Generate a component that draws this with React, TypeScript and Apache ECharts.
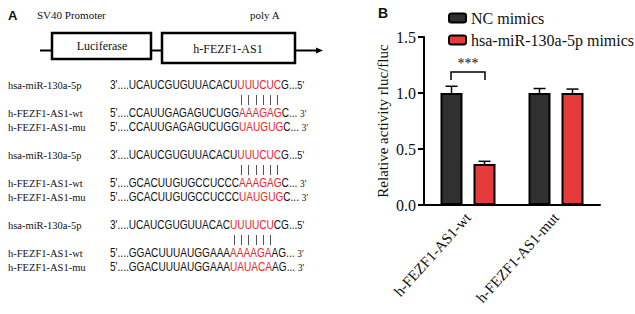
import React, { useEffect, useRef } from 'react';
import * as echarts from 'echarts';

// ---- Panel B data ----
const categories = ['h-FEZF1-AS1-wt', 'h-FEZF1-AS1-mut'];
const seriesNames = ['NC mimics', 'hsa-miR-130a-5p mimics'];
const ncValues = [1.0, 1.0];
const ncErrors = [0.06, 0.04];
const mimicValues = [0.365, 1.0];
const mimicErrors = [0.025, 0.035];
const yTickLabels = ['0.0', '0.5', '1.0', '1.5'];

// ---- Panel A data ----
const seqLabels = ['hsa-miR-130a-5p', 'h-FEZF1-AS1-wt', 'h-FEZF1-AS1-mu'];
// [prefix, red seed part, suffix, end]
const block1 = [
  ["3'....UCAUCGUGUUACACU", 'UUUCUC', 'G...', "5'"],
  ["5'....CCAUUGAGAGUCUGG", 'AAAGAG', 'C... ', "3'"],
  ["5'....CCAUUGAGAGUCUGG", 'UAUGUG', 'C... ', "3'"],
];
const block2 = [
  ["3'....UCAUCGUGUUACACU", 'UUUCUC', 'G...', "5'"],
  ["5'....GCACUUGUGCCUCCC", 'AAAGAG', 'C... ', "3'"],
  ["5'....GCACUUGUGCCUCCC", 'UAUGUG', 'C... ', "3'"],
];
const block3 = [
  ["3'....UCAUCGUGUUACAC", 'UUUUCU', 'CG...', "5'"],
  ["5'....GGACUUUAUGGAAA", 'AAAAGA', 'AG... ', "3'"],
  ["5'....GGACUUUAUGGAAA", 'UAUACA', 'AG... ', "3'"],
];
const blocks = [block1, block2, block3];

const RED = '#e5262c';
const BAR_RED = '#e53b3b';
const BAR_DARK = '#303030';
const SERIF = '"Liberation Serif", "Times New Roman", serif';
const SANS = '"Liberation Sans", Arial, sans-serif';

const SEQ_FONT = 12;
const SEQ_SCALE = 0.84;

function measure(text: string, font: string): number {
  const c = document.createElement('canvas');
  const ctx = c.getContext('2d');
  if (!ctx) return text.length * 7;
  ctx.font = font;
  return ctx.measureText(text).width;
}

function buildPanelA(): any[] {
  const els: any[] = [];
  const txt = (x: number, y: number, text: string, font: string, extra: any = {}) => ({
    type: 'text',
    x,
    y,
    style: { text, font, fill: '#111', verticalAlign: 'middle', align: 'left', ...extra },
  });
  els.push(txt(8, 15, 'A', 'bold 13px ' + SANS));
  els.push(txt(37, 15, 'SV40 Promoter', '11px ' + SERIF));
  els.push(txt(250, 15, 'poly A', '11px ' + SERIF));
  const ln = (x1: number, y1: number, x2: number, y2: number, w = 2) => ({
    type: 'line',
    shape: { x1, y1, x2, y2 },
    style: { stroke: '#000', lineWidth: w },
  });
  els.push(ln(40, 50.5, 53, 50.5, 2));
  els.push(ln(151, 50.5, 163, 50.5, 2));
  els.push(ln(294, 50.5, 317, 50.5, 2));
  els.push({
    type: 'polygon',
    shape: { points: [[316, 47.5], [323, 50.5], [316, 53.5]] },
    style: { fill: '#000' },
  });
  els.push({
    type: 'rect',
    shape: { x: 52, y: 33, width: 99, height: 26 },
    style: { fill: '#fff', stroke: '#000', lineWidth: 2.5 },
  });
  els.push({
    type: 'rect',
    shape: { x: 162, y: 33, width: 133, height: 30 },
    style: { fill: '#fff', stroke: '#000', lineWidth: 2.5 },
  });
  els.push({
    type: 'text',
    x: 102,
    y: 46,
    style: { text: 'Luciferase', font: '12px ' + SERIF, fill: '#111', align: 'center', verticalAlign: 'middle' },
  });
  els.push({
    type: 'text',
    x: 228,
    y: 49,
    style: { text: 'h-FEZF1-AS1', font: '12px ' + SERIF, fill: '#111', align: 'center', verticalAlign: 'middle' },
  });

  const seqX = 110;
  const seqFont = SEQ_FONT + 'px ' + SANS;
  blocks.forEach((block, b) => {
    const base = 85 + 70 * b;
    const rowY = [base, base + 28, base + 42];
    block.forEach((row, r) => {
      els.push(txt(8, rowY[r], seqLabels[r], '10.5px ' + SERIF));
      els.push({
        type: 'text',
        x: seqX,
        y: rowY[r],
        scaleX: SEQ_SCALE,
        style: {
          text: `{b|${row[0]}}{r|${row[1]}}{b|${row[2]}}{s|${row[3]}}`,
          verticalAlign: 'middle',
          align: 'left',
          rich: {
            b: { fill: '#111', fontFamily: SANS, fontSize: SEQ_FONT },
            r: { fill: RED, fontFamily: SANS, fontSize: SEQ_FONT },
            s: { fill: '#111', fontFamily: row[3] === "3'" ? SERIF : SANS, fontSize: SEQ_FONT - 1 },
          },
        },
      });
    });
    // pairing pipes above the seed letters of the miRNA row
    const mir = block[0];
    let px = seqX + measure(mir[0], seqFont) * SEQ_SCALE;
    const pipeY = base + 15;
    for (const ch of mir[1].split('')) {
      const w = measure(ch, seqFont) * SEQ_SCALE;
      const cx = Math.round(px + w / 2) + 0.5;
      els.push({
        type: 'line',
        shape: { x1: cx, y1: pipeY - 5, x2: cx, y2: pipeY + 5 },
        style: { stroke: '#555', lineWidth: 1 },
      });
      px += w;
    }
  });
  return els;
}

function errorSeries(values: number[], errors: number[], offset: number) {
  return {
    type: 'custom',
    z: 1,
    renderItem: (_params: any, api: any) => {
      const i = api.value(0);
      const v = api.value(1);
      const e = api.value(2);
      const p0 = api.coord([i, v]);
      const p1 = api.coord([i, v + e]);
      const x = p0[0] + offset;
      return {
        type: 'group',
        children: [
          { type: 'line', shape: { x1: x, y1: p0[1], x2: x, y2: p1[1] }, style: { stroke: '#000', lineWidth: 1.5 } },
          { type: 'line', shape: { x1: x - 6, y1: p1[1], x2: x + 6, y2: p1[1] }, style: { stroke: '#000', lineWidth: 1.5 } },
        ],
      };
    },
    encode: { x: 0, y: 1 },
    data: values.map((v, i) => [i, v, errors[i]]),
  };
}

export default function App() {
  const ref = useRef<HTMLDivElement>(null);
  useEffect(() => {
    if (!ref.current) return;
    const chart = echarts.init(ref.current, undefined, { renderer: 'svg' });
    const option: any = {
      animation: false,
      backgroundColor: '#fff',
      textStyle: { fontFamily: SERIF },
      grid: { left: 424, width: 176, top: 37, bottom: 109 },
      legend: {
        data: seriesNames,
        orient: 'vertical',
        left: 443,
        top: 5,
        itemWidth: 17,
        itemHeight: 9,
        itemGap: 6,
        textStyle: { fontFamily: SERIF, fontSize: 16, color: '#111' },
      },
      xAxis: {
        type: 'category',
        data: categories,
        axisLine: { lineStyle: { color: '#000', width: 2 } },
        axisTick: { alignWithLabel: true, length: 6, lineStyle: { color: '#000', width: 2 } },
        axisLabel: { rotate: 48, fontFamily: SERIF, fontSize: 15, color: '#111', margin: 10, interval: 0 },
      },
      yAxis: {
        type: 'value',
        min: 0,
        max: 1.5,
        interval: 0.5,
        name: 'Relative activity rluc/fluc',
        nameLocation: 'middle',
        nameGap: 34,
        nameTextStyle: { fontFamily: SERIF, fontSize: 15, color: '#111' },
        axisLine: { show: true, lineStyle: { color: '#000', width: 2 } },
        axisTick: { show: true, length: 6, lineStyle: { color: '#000', width: 2 } },
        splitLine: { show: false },
        axisLabel: {
          fontFamily: SERIF,
          fontSize: 16,
          color: '#111',
          margin: 8,
          formatter: (v: number) => yTickLabels[Math.round(v / 0.5)] ?? v.toFixed(1),
        },
      },
      series: [
        {
          name: seriesNames[0],
          type: 'bar',
          data: ncValues,
          barWidth: 22,
          barGap: '50%',
          z: 2,
          itemStyle: { color: BAR_DARK, borderColor: '#000', borderWidth: 2 },
        },
        {
          name: seriesNames[1],
          type: 'bar',
          data: mimicValues,
          barWidth: 22,
          barGap: '50%',
          z: 2,
          itemStyle: { color: BAR_RED, borderColor: '#000', borderWidth: 2 },
        },
        errorSeries(ncValues, ncErrors, -16.5),
        errorSeries(mimicValues, mimicErrors, 16.5),
      ],
      graphic: [
        ...buildPanelA(),
        {
          type: 'text',
          x: 378,
          y: 13,
          style: { text: 'B', font: 'bold 14px ' + SANS, fill: '#111', verticalAlign: 'middle' },
        },
        {
          type: 'polyline',
          shape: { points: [[451, 80], [451, 72], [485, 72], [485, 80]] },
          style: { stroke: '#000', lineWidth: 1.5, fill: 'none' },
        },
        {
          type: 'text',
          x: 468,
          y: 63,
          style: { text: '***', font: '14px ' + SERIF, fill: '#111', align: 'center', verticalAlign: 'middle' },
        },
      ],
    };
    chart.setOption(option);
    return () => chart.dispose();
  }, []);
  return (
    <div
      ref={ref}
      style={{ position: 'absolute', left: 0, top: 0, width: 635, height: 314, background: '#fff' }}
    />
  );
}
